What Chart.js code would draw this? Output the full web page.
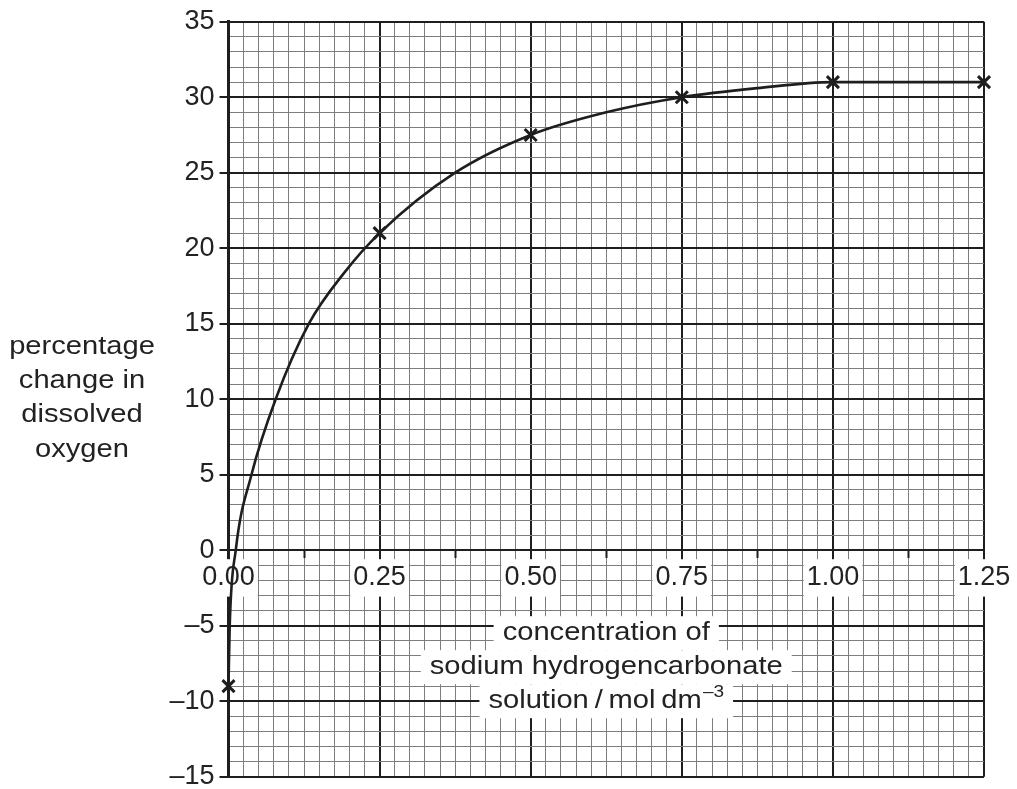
<!DOCTYPE html>
<html><head><meta charset="utf-8">
<script src="https://cdn.jsdelivr.net/npm/chart.js@4/dist/chart.umd.min.js"></script>
<style>html,body{margin:0;padding:0;background:#fff}#wrap{width:1017px;height:789px}</style>
</head><body><div id="wrap"><canvas id="c" width="1017" height="789"></canvas></div>
<script>
// measured points (crosses)
const measuredConc = [0, 0.25, 0.5, 0.75, 1.0, 1.25];
const measuredOxygen = [-9, 21, 27.5, 30, 31, 31];
// points read along the drawn curve of best fit
const curveConc = [0, 0.002, 0.012, 0.038, 0.078, 0.133, 0.19, 0.25, 0.375, 0.5, 0.625, 0.75, 0.875, 1.0, 1.25];
const curveOxygen = [-9, -5, 0, 5, 10, 15, 18.3, 21, 25, 27.5, 29, 30, 30.6, 31, 31];
const xTickLabels = ['0.00', '0.25', '0.50', '0.75', '1.00', '1.25'];
const yTickLabels = ['\u201315', '\u201310', '\u20135', '0', '5', '10', '15', '20', '25', '30', '35'];
const yAxisTitle = ['percentage', 'change in', 'dissolved', 'oxygen'];
const xAxisTitle = ['concentration of', 'sodium hydrogencarbonate', 'solution\u2009/\u2009mol\u2009dm'];
const xAxisTitleSup = '\u20133';

const FONT = '"Liberation Sans", Arial, sans-serif';
const DARK = '#1e1e1e';
const MINOR = '#7d7d7d';
const near = (v, step) => Math.abs(v / step - Math.round(v / step)) < 1e-6;

const textPlugin = {
  id: 'texts',
  beforeDatasetsDraw(chart) {
    const ctx = chart.ctx;
    const xs = chart.scales.x, ys = chart.scales.y;
    const stretch = 1.12;
    ctx.save();
    ctx.fillStyle = '#222';
    ctx.textBaseline = 'middle';
    const cx = xs.getPixelForValue((xs.min + xs.max) / 2);
    const axisY = ys.getPixelForValue(0);
    const offs = [83, 117, 151];
    ctx.font = '26px ' + FONT;
    xAxisTitle.forEach((t, i) => {
      const cy = axisY + offs[i];
      const w = ctx.measureText(t).width;
      let ws = 0;
      if (i === 2) { ctx.font = '17px ' + FONT; ws = ctx.measureText(xAxisTitleSup).width + 1; ctx.font = '26px ' + FONT; }
      const total = (w + ws) * stretch;
      ctx.fillStyle = '#fff';
      ctx.fillRect(cx - total / 2 - 9, cy - 17, total + 18, 34);
      ctx.fillStyle = '#222';
      ctx.save();
      ctx.translate(cx - total / 2, cy);
      ctx.scale(stretch, 1);
      ctx.textAlign = 'left';
      ctx.fillText(t, 0, 0);
      if (i === 2) {
        ctx.font = '17px ' + FONT;
        ctx.fillText(xAxisTitleSup, w + 1, -9);
      }
      ctx.restore();
      ctx.font = '26px ' + FONT;
    });
    const ycent = [347, 381, 415, 450];
    yAxisTitle.forEach((t, i) => {
      ctx.save();
      ctx.translate(82, ycent[i]);
      ctx.scale(stretch, 1);
      ctx.textAlign = 'center';
      ctx.fillText(t, 0, 0);
      ctx.restore();
    });
    ctx.restore();
  }
};

new Chart(document.getElementById('c'), {
  type: 'line',
  data: {
    datasets: [
      {
        label: 'measured',
        data: measuredConc.map((x, i) => ({ x, y: measuredOxygen[i] })),
        showLine: false,
        pointStyle: 'crossRot',
        pointRadius: 8.5,
        pointBorderWidth: 3,
        borderColor: DARK,
        backgroundColor: DARK,
        clip: false,
        order: 0
      },
      {
        label: 'curve',
        data: curveConc.map((x, i) => ({ x, y: curveOxygen[i] })),
        borderColor: DARK,
        borderWidth: 2.6,
        pointRadius: 0,
        fill: false,
        clip: false,
        cubicInterpolationMode: 'monotone',
        order: 1
      }
    ]
  },
  options: {
    responsive: false,
    animation: false,
    devicePixelRatio: 1,
    layout: { padding: { top: 21.7, right: 33, bottom: 12.3, left: 0 } },
    plugins: { legend: { display: false }, tooltip: { enabled: false } },
    scales: {
      x: {
        type: 'linear',
        min: 0, max: 1.25,
        position: { y: 0 },
        afterBuildTicks: s => { const t = []; for (let i = 0; i <= 50; i++) t.push({ value: i * 0.025 }); s.ticks = t; },
        afterFit: s => { s.height = 0; s.paddingLeft = 0; s.paddingRight = 0; s.paddingTop = 0; s.paddingBottom = 0; },
        ticks: {
          autoSkip: false, maxRotation: 0, minRotation: 0,
          callback: (v, i) => (i % 10 === 0 ? xTickLabels[i / 10] : ''),
          font: { family: FONT, size: 27 },
          color: '#222',
          padding: 4,
          showLabelBackdrop: true,
          backdropColor: c => (c.index % 10 === 0 ? '#ffffff' : 'rgba(0,0,0,0)'),
          backdropPadding: { left: 3, right: 3, top: 2, bottom: 3 },
          z: 0
        },
        grid: {
          color: c => (c.tick && near(c.tick.value, 0.25) ? DARK : MINOR),
          lineWidth: c => (c.tick && near(c.tick.value, 0.25) ? 2 : 1),
          tickColor: c => (c.tick && near(c.tick.value, 0.125) ? DARK : 'rgba(0,0,0,0)'),
          tickLength: 7,
          tickWidth: 2,
          drawTicks: true
        },
        border: { display: true, color: DARK, width: 2 }
      },
      y: {
        type: 'linear',
        min: -15, max: 35,
        position: 'left',
        afterBuildTicks: s => { const t = []; for (let v = -15; v <= 35; v++) t.push({ value: v }); s.ticks = t; },
        afterFit: s => { s.width = 228.5; s.paddingTop = 0; s.paddingBottom = 0; },
        ticks: {
          autoSkip: false,
          callback: v => (near(v, 5) ? yTickLabels[Math.round((v + 15) / 5)] : ''),
          font: { family: FONT, size: 27 },
          color: '#222',
          padding: 5
        },
        grid: {
          color: c => (c.tick && near(c.tick.value, 5) ? DARK : MINOR),
          lineWidth: c => (c.tick && near(c.tick.value, 5) ? 2 : 1),
          tickColor: c => (c.tick && near(c.tick.value, 5) ? DARK : 'rgba(0,0,0,0)'),
          tickLength: 9,
          tickWidth: 2,
          drawTicks: true
        },
        border: { display: true, color: DARK, width: 3, z: -1 }
      }
    }
  },
  plugins: [textPlugin]
});
</script></body></html>
